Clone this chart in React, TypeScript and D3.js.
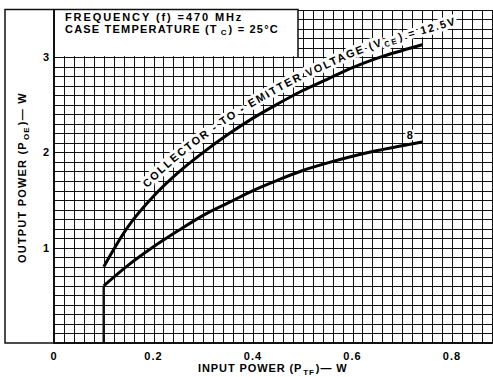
import * as d3 from "d3";
import React, { useEffect, useRef } from "react";

// (W in, W out)
const inputPower = [0.1, 0.15, 0.2, 0.25, 0.3, 0.35, 0.4, 0.45, 0.5, 0.55, 0.6, 0.65, 0.7, 0.74];
const output12v5 = [0.8, 1.23, 1.54, 1.79, 2.0, 2.19, 2.36, 2.51, 2.65, 2.77, 2.89, 2.99, 3.07, 3.13];
const output8v = [0.6, 0.82, 1.01, 1.18, 1.34, 1.47, 1.6, 1.71, 1.81, 1.89, 1.96, 2.02, 2.07, 2.11];

const xTicks = ["0", "0.2", "0.4", "0.6", "0.8"];
const yTicks = ["1", "2", "3"];

const FONT = "'Liberation Sans', Arial, sans-serif";

const App = () => {
  const ref = useRef<SVGSVGElement>(null);

  useEffect(() => {
    const width = 493;
    const height = 377;

    const x = d3.scaleLinear().domain([0, 0.9]).range([54, 501.75]);
    const y = d3.scaleLinear().domain([0, 3.5]).range([343, 9.5]);

    const svg = d3.select(ref.current).attr("width", width).attr("height", height);
    svg.selectAll("*").remove();

    svg.append("rect").attr("width", width).attr("height", height).attr("fill", "#fff");

    // grid
    const grid = svg.append("g").attr("stroke", "#111").attr("shape-rendering", "crispEdges");
    grid
      .selectAll("line.v")
      .data(d3.range(0, 46))
      .join("line")
      .attr("class", "v")
      .attr("x1", (i) => Math.round(x(i * 0.02)) + 0.5)
      .attr("x2", (i) => Math.round(x(i * 0.02)) + 0.5)
      .attr("y1", y(3.5))
      .attr("y2", y(0))
      .attr("stroke-width", (i) => (i % 5 === 0 ? 1.4 : 1));
    grid
      .selectAll("line.h")
      .data(d3.range(0, 36))
      .join("line")
      .attr("class", "h")
      .attr("x1", x(0))
      .attr("x2", width)
      .attr("y1", (i) => Math.round(y(i * 0.1)) + 0.5)
      .attr("y2", (i) => Math.round(y(i * 0.1)) + 0.5)
      .attr("stroke-width", (i) => (i % 5 === 0 ? 1.8 : 1));

    // legend box
    svg
      .append("rect")
      .attr("x", x(0))
      .attr("y", y(3.5))
      .attr("width", 298 - x(0))
      .attr("height", y(3) - y(3.5) - 1)
      .attr("fill", "#fff");
    svg
      .append("path")
      .attr("d", `M${x(0)},${y(3.5)}H298V${y(3)}`)
      .attr("fill", "none")
      .attr("stroke", "#111")
      .attr("stroke-width", 1.5);

    // outer frame
    svg
      .append("path")
      .attr("d", `M${x(0)},${y(3.5)}H5V${y(0)}H${x(0)}`)
      .attr("fill", "none")
      .attr("stroke", "#111")
      .attr("stroke-width", 1.5);
    svg
      .append("path")
      .attr("d", `M${x(0)},${y(3.5)}V${y(0)}H${width}`)
      .attr("fill", "none")
      .attr("stroke", "#111")
      .attr("stroke-width", 2);

    // drop line at start of curves
    svg
      .append("line")
      .attr("x1", x(inputPower[0]))
      .attr("x2", x(inputPower[0]))
      .attr("y1", y(0))
      .attr("y2", y(output8v[0]))
      .attr("stroke", "#111")
      .attr("stroke-width", 2.5);

    const line = d3
      .line<number>()
      .x((_, i) => x(inputPower[i]))
      .y((d) => y(d))
      .curve(d3.curveCatmullRom.alpha(0.5));

    const upper = svg
      .append("path")
      .attr("d", line(output12v5))
      .attr("fill", "none")
      .attr("stroke", "#000")
      .attr("stroke-width", 3);
    svg
      .append("path")
      .attr("d", line(output8v))
      .attr("fill", "none")
      .attr("stroke", "#000")
      .attr("stroke-width", 3);

    // label path: curve offset upward, extended past the end
    const node = upper.node() as SVGPathElement;
    const total = node.getTotalLength();
    const off = 10;
    const pts: [number, number][] = [];
    let tx = 1;
    let ty = 0;
    for (let s = 0; s <= total; s += 2) {
      const p = node.getPointAtLength(s);
      const q = node.getPointAtLength(Math.min(total, s + 3));
      const r = node.getPointAtLength(Math.max(0, s - 3));
      const dx = q.x - r.x;
      const dy = q.y - r.y;
      const len = Math.hypot(dx, dy) || 1;
      tx = dx / len;
      ty = dy / len;
      pts.push([p.x + off * ty, p.y - off * tx]);
    }
    const last = pts[pts.length - 1];
    for (let k = 2; k <= 60; k += 2) pts.push([last[0] + k * tx, last[1] + k * ty]);
    const cum = [0];
    for (let i = 1; i < pts.length; i++)
      cum.push(cum[i - 1] + Math.hypot(pts[i][0] - pts[i - 1][0], pts[i][1] - pts[i - 1][1]));
    const lenAtX = (px: number) => {
      const i = pts.findIndex((p) => p[0] >= px);
      return cum[i < 0 ? cum.length - 1 : i];
    };

    svg
      .append("defs")
      .append("path")
      .attr("id", "vcePath")
      .attr("d", d3.line().curve(d3.curveBasis)(pts));

    const startL = lenAtX(147);
    const endL = lenAtX(456);

    const label = svg
      .append("text")
      .attr("font-family", FONT)
      .attr("font-weight", "bold")
      .attr("font-size", 11)
      .attr("fill", "#000")
      .attr("stroke", "#fff")
      .attr("stroke-width", 6)
      .attr("stroke-linejoin", "round")
      .attr("paint-order", "stroke");
    const tp = label.append("textPath").attr("href", "#vcePath").attr("startOffset", startL);
    tp.append("tspan").text("COLLECTOR - TO - EMITTER VOLTAGE (V");
    tp.append("tspan").attr("font-size", 8).attr("dy", 2).attr("dx", 1).text("CE");
    tp.append("tspan").attr("dy", -2).attr("dx", 1).text(") = 12.5V");
    const measured = (label.node() as SVGTextElement).getComputedTextLength();
    const nChars = "COLLECTOR - TO - EMITTER VOLTAGE (VCE) = 12.5V".length;
    label.attr("letter-spacing", Math.max(0, (endL - startL - measured - 2) / nChars));

    svg
      .append("text")
      .attr("x", x(0.715))
      .attr("y", y(2.08) - 6)
      .attr("text-anchor", "middle")
      .attr("font-family", FONT)
      .attr("font-weight", "bold")
      .attr("font-size", 11)
      .attr("stroke", "#fff")
      .attr("stroke-width", 4)
      .attr("paint-order", "stroke")
      .text("8");

    // legend text
    const legend = svg
      .append("g")
      .attr("font-family", FONT)
      .attr("font-weight", "bold")
      .attr("font-size", 11);
    legend
      .append("text")
      .attr("x", 65)
      .attr("y", 21)
      .attr("letter-spacing", 1.9)
      .text("FREQUENCY (f) =470 MHz");
    const l2 = legend.append("text").attr("x", 65).attr("y", 33).attr("letter-spacing", 1.2);
    l2.append("tspan").text("CASE TEMPERATURE (T");
    l2.append("tspan").attr("font-size", 8).attr("dy", 1.5).attr("dx", 3).attr("letter-spacing", 0).text("C");
    l2.append("tspan").attr("dy", -1.5).attr("dx", 2).text(") = 25°C");

    // tick labels
    const ticks = svg
      .append("g")
      .attr("font-family", FONT)
      .attr("font-weight", "bold")
      .attr("font-size", 11);
    ticks
      .selectAll("text.x")
      .data(xTicks)
      .join("text")
      .attr("class", "x")
      .attr("x", (d) => x(+d))
      .attr("y", 360)
      .attr("text-anchor", "middle")
      .attr("letter-spacing", 1)
      .text((d) => d);
    ticks
      .selectAll("text.y")
      .data(yTicks)
      .join("text")
      .attr("class", "y")
      .attr("x", 49)
      .attr("y", (d) => y(+d) + 4)
      .attr("text-anchor", "end")
      .text((d) => d);

    // axis titles
    const xt = ticks.append("text").attr("x", 198).attr("y", 372).attr("letter-spacing", 0.9);
    xt.append("tspan").text("INPUT POWER (P");
    xt.append("tspan").attr("font-size", 8).attr("dy", 3).attr("dx", 1).text("TF");
    xt.append("tspan").attr("dy", -3).attr("dx", 1).text(")— W");

    const yt = ticks
      .append("text")
      .attr("transform", `translate(26,263) rotate(-90)`)
      .attr("letter-spacing", 1.2);
    yt.append("tspan").text("OUTPUT POWER (P");
    yt.append("tspan").attr("font-size", 8).attr("dy", 3).attr("dx", 1).text("OE");
    yt.append("tspan").attr("dy", -3).attr("dx", 1).text(")— W");
  }, []);

  return <svg ref={ref} style={{ position: "absolute", left: 0, top: 0 }} />;
};

export default App;
